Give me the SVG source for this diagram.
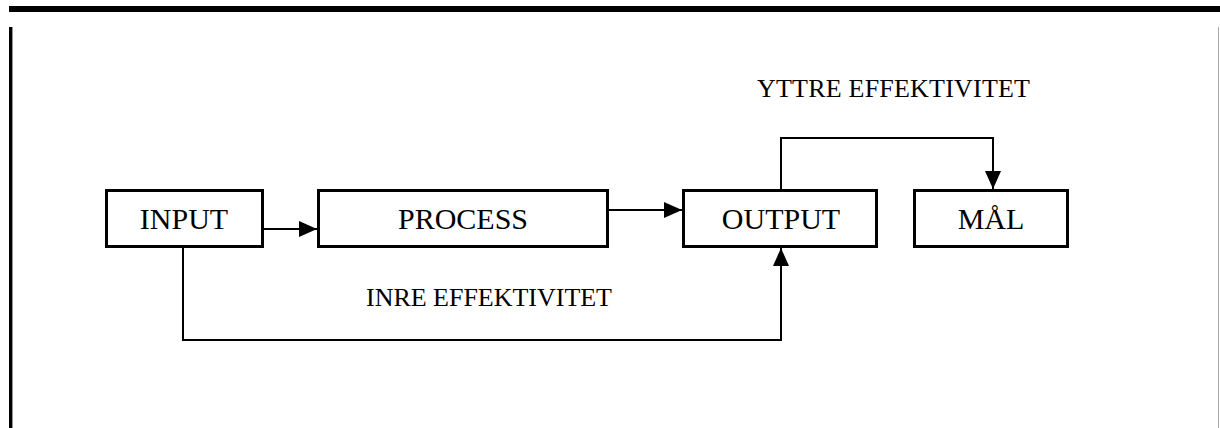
<svg xmlns="http://www.w3.org/2000/svg" width="1220" height="428" viewBox="0 0 1220 428">
  <defs>
    <style>
      .box { fill: #fff; stroke: #000; stroke-width: 3; }
      .lbl { font-family: "Liberation Serif", "DejaVu Serif", serif; font-size: 30px; fill: #000; text-anchor: middle; }
      .note { font-family: "Liberation Serif", "DejaVu Serif", serif; font-size: 26px; fill: #000; }
      .wire { fill: none; stroke: #000; stroke-width: 2; }
    </style>
    <marker id="arrow" viewBox="0 0 18 16" refX="18" refY="8" markerWidth="18" markerHeight="16" markerUnits="userSpaceOnUse" orient="auto">
      <path d="M0,0 L18,8 L0,16 Z" fill="#000"/>
    </marker>
  </defs>

  <!-- page frame -->
  <rect x="9" y="6" width="1211" height="6" fill="#000"/>
  <rect x="9" y="27" width="3" height="401" fill="#000"/>
  <rect x="12" y="27" width="1" height="401" fill="#999"/>
  <rect x="1218" y="27" width="1" height="401" fill="#aaa"/>

  <!-- connectors -->
  <g id="connectors">
    <path class="wire" d="M263,229 L317,229" marker-end="url(#arrow)"/>
    <path class="wire" d="M608,210 L682,210" marker-end="url(#arrow)"/>
    <path class="wire" d="M781,189 L781,138 L993,138 L993,189" marker-end="url(#arrow)"/>
    <path class="wire" d="M183,247 L183,340 L781,340 L781,248" marker-end="url(#arrow)"/>
  </g>

  <g id="input">
    <rect class="box" x="106.5" y="190.5" width="156" height="56"/>
    <text class="lbl" x="184" y="229">INPUT</text>
  </g>

  <g id="process">
    <rect class="box" x="318.5" y="190.5" width="289" height="56"/>
    <text class="lbl" x="463" y="229">PROCESS</text>
  </g>

  <g id="output">
    <rect class="box" x="683.5" y="190.5" width="193" height="56"/>
    <text class="lbl" x="781" y="229">OUTPUT</text>
  </g>

  <g id="mal">
    <rect class="box" x="914.5" y="190.5" width="153" height="56"/>
    <text class="lbl" x="991" y="229">MÅL</text>
  </g>

  <text class="note" x="757" y="97" textLength="273" lengthAdjust="spacing">YTTRE EFFEKTIVITET</text>
  <text class="note" x="366" y="306" textLength="246" lengthAdjust="spacing">INRE EFFEKTIVITET</text>
</svg>
